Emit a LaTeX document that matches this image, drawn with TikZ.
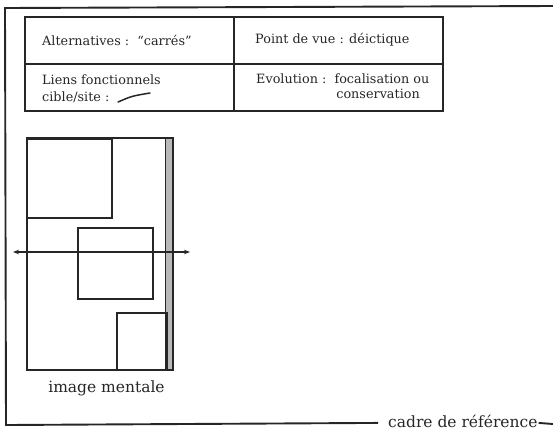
\documentclass[tikz,border=0pt]{standalone}
\usepackage{fontspec}
\setmainfont{DejaVu Serif}
\usetikzlibrary{arrows.meta}
\definecolor{ink}{HTML}{262626}
\begin{document}
\begin{tikzpicture}[x=1pt,y=-1pt,
  frame/.style={draw=ink,line width=1.9pt},
  cell/.style={draw=ink,line width=1.6pt,anchor=north west,inner sep=0pt,minimum width=209pt,minimum height=47pt},
  celltext/.style={anchor=west,inner sep=0pt,text=ink,font=\fontsize{12.8}{14}\selectfont},
  sq/.style={draw=ink,line width=1.8pt,anchor=north west,inner sep=0pt},
  biglabel/.style={inner sep=0pt,text=ink,font=\fontsize{15.5}{18}\selectfont}]
\useasboundingbox (0,0) rectangle (553,432);
% outer frame
\coordinate (ftr) at (553,6);
\coordinate (ftl) at (5,8);
\coordinate (fbl) at (6,425);
\coordinate (fbr) at (553,424);
\node[biglabel,anchor=base west] (cadre) at (388,427) {cadre de référence};
\draw[frame] (ftr) -- (ftl) -- (fbl) -- ([xshift=-10pt,yshift=-2pt]cadre.west);
\draw[frame] ([xshift=1pt,yshift=-2pt]cadre.east) -- (fbr);
% table
\node[cell] (c11) at (24,16) {};
\node[cell] (c12) at (233,16) {};
\node[cell] (c21) at (24,63) {};
\node[cell] (c22) at (233,63) {};
\node[celltext] (t11) at (42,40) {Alternatives :~~“carrés”};
\node[celltext] (t12) at (255,40) {Point de vue : déictique};
\node[celltext] (t21a) at (42,80) {Liens fonctionnels};
\node[celltext] (t21b) at (42,97) {cible/site :};
\coordinate (lk1) at (118,102);
\coordinate (lk2) at (150,93);
\draw[ink,line width=1.5pt,line cap=round] (lk1) .. controls (132,96) .. (lk2);
\node[celltext] (t22a) at (256,79) {Evolution :~~focalisation ou};
\node[celltext,anchor=east] (t22b) at (420,94) {conservation};
% mental image
\node[sq,minimum width=146pt,minimum height=232pt] (img) at (26,137) {};
\fill[gray!55] ([xshift=-8pt]img.north east) rectangle (img.south east);
\draw[ink,line width=0.8pt] ([xshift=-8pt]img.north east) -- ([xshift=-8pt]img.south east);
\node[sq,minimum width=146pt,minimum height=232pt] at (26,137) {};
\node[sq,minimum width=85pt,minimum height=79pt] (s1) at (26,138) {};
\node[sq,minimum width=75pt,minimum height=71pt] (s2) at (77,227) {};
\node[sq,minimum width=50pt,minimum height=57pt] (s3) at (116,312) {};
\coordinate (al) at (13,252);
\coordinate (ar) at (190,252);
\draw[ink,line width=1.3pt,{Stealth[length=6pt,width=4.5pt]}-{Stealth[length=6pt,width=4.5pt]}] (al) -- (ar);
\node[biglabel,anchor=base] (lab) at (106.5,392) {image mentale};
\end{tikzpicture}
\end{document}
